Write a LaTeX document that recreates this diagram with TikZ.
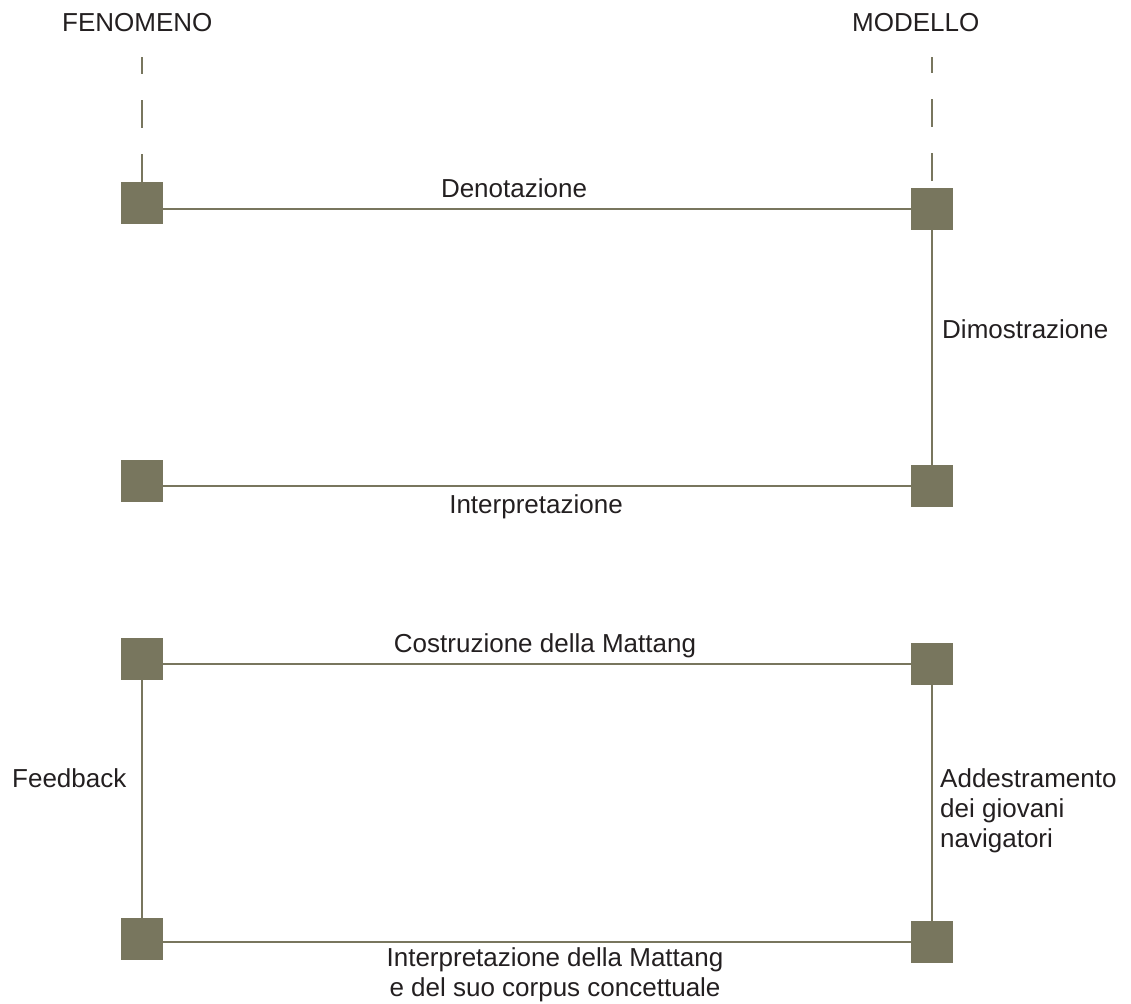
\documentclass[tikz,border=0pt]{standalone}
\usepackage{fontspec}
\setmainfont{Liberation Sans}
\definecolor{sqcol}{RGB}{120,118,94}
\definecolor{txtcol}{RGB}{35,31,32}
\begin{document}
\begin{tikzpicture}[x=1pt,y=-1pt,
  sq/.style={fill=sqcol,draw=none,minimum size=42pt,inner sep=0pt,outer sep=0pt},
  conn/.style={draw=sqcol,line width=2.3pt},
  guide/.style={draw=sqcol,line width=2.3pt,dash pattern=on 28pt off 26pt},
  lab/.style={font=\fontsize{26}{30}\selectfont,text=txtcol,inner sep=0pt}]
\useasboundingbox (0,0) rectangle (1131,1003);
% squares
\node[sq] (tl) at (142,203) {};
\node[sq] (tr) at (932,209) {};
\node[sq] (ml) at (142,481) {};
\node[sq] (mr) at (932,486) {};
\node[sq] (cl) at (142,659) {};
\node[sq] (cr) at (932,664) {};
\node[sq] (bl) at (142,939) {};
\node[sq] (br) at (932,942) {};
% dashed guides
\coordinate (fentop) at (142,57);
\coordinate (modtop) at (932,57);
\coordinate (modbot) at (932,181);
\draw[guide] (tl.north) -- (fentop);
\draw[guide] (modbot) -- (modtop);
% connectors
\draw[conn] (tl.east |- tr) -- (tr.west);
\draw[conn] (tr) -- (mr);
\draw[conn] (ml.east |- mr) -- (mr.west);
\draw[conn] (cl.east |- cr) -- (cr.west);
\draw[conn] (cl) -- (bl);
\draw[conn] (cr) -- (br);
\draw[conn] (bl.east |- br) -- (br.west);
% labels
\node[lab,anchor=base west] (fen) at (62,32) {FENOMENO};
\node[lab,anchor=base west] (mod) at (852,32) {MODELLO};
\node[lab,anchor=base] (den) at (514,197) {Denotazione};
\node[lab,anchor=base west] (dim) at (942,338) {Dimostrazione};
\node[lab,anchor=base] (int) at (536,513) {Interpretazione};
\node[lab,anchor=base] (cos) at (545,652) {Costruzione della Mattang};
\node[lab,anchor=base west] (fee) at (12,787) {Feedback};
\node[lab,anchor=north west,align=left] (add) at (940,768) {Addestramento\\dei giovani\\navigatori};
\node[lab,anchor=north,align=center] (imc) at (555,947) {Interpretazione della Mattang\\e del suo corpus concettuale};
\end{tikzpicture}
\end{document}
